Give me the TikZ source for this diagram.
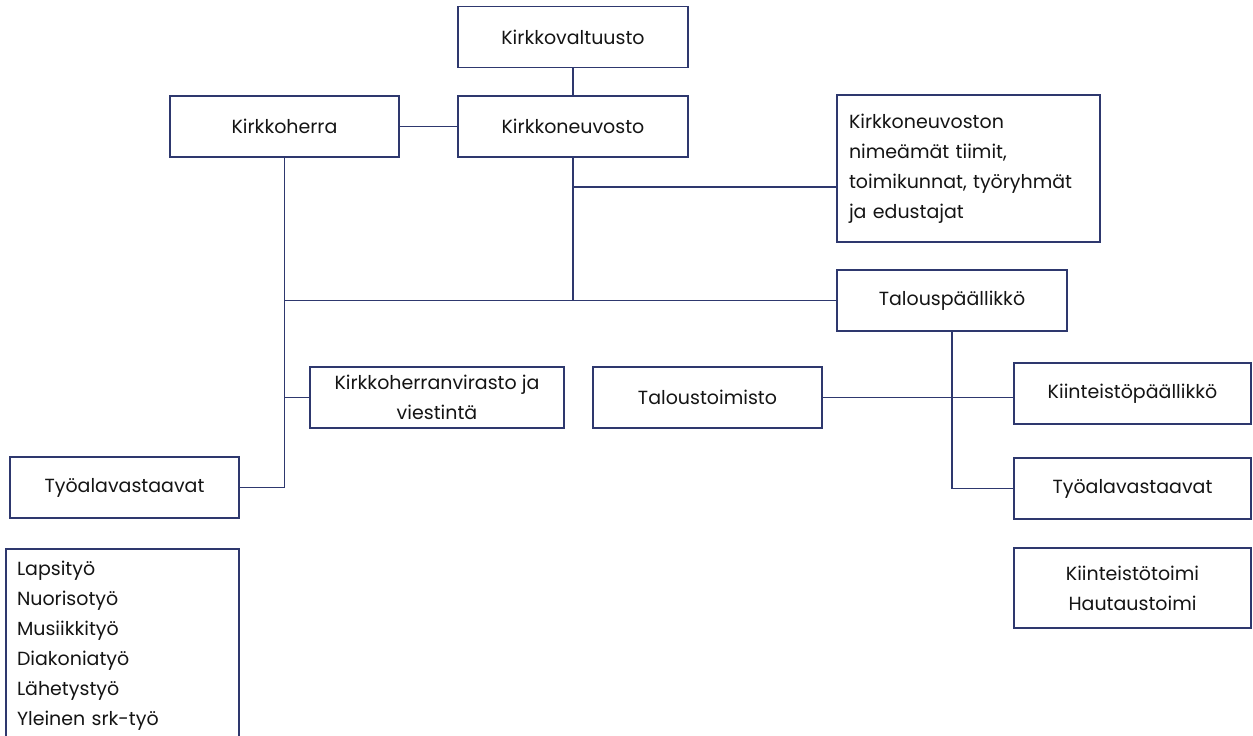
\documentclass[tikz,border=0pt]{standalone}
\usepackage{fontspec}
\setmainfont{Poppins}

\definecolor{lineBlue}{RGB}{46,56,110}
\definecolor{textGray}{RGB}{20,20,20}

\begin{document}
\begin{tikzpicture}
    [x = 1pt, y = -1pt,
     orgBox/.style = {draw = lineBlue, line width = 1.4pt, inner sep = 0pt,
                      text = textGray, minimum height = 61pt, align = center,
                      font = \fontsize{19}{30}\selectfont},
     leftBox/.style = {orgBox, align = left},
     link/.style = {draw = lineBlue, line width = 1.4pt}]

    \useasboundingbox (0,0) rectangle (1253,736);

    \node at (573,37)      [orgBox, minimum width = 230pt] (valtuusto) {Kirkkovaltuusto};
    \node at (573,126.5)   [orgBox, minimum width = 230pt] (neuvosto)  {Kirkkoneuvosto};
    \node at (284.5,126.5) [orgBox, minimum width = 229pt] (herra)     {Kirkkoherra};
    \node at (968.5,168.5) [leftBox, minimum width = 263pt, minimum height = 147pt,
                            text width = 239pt] (tiimit)
      {Kirkkoneuvoston\\ nimeämät tiimit,\\ toimikunnat, työryhmät\\ ja edustajat};
    \node at (952,300.5)   [orgBox, minimum width = 230pt] (talous)    {Talouspäällikkö};

    \node at (437,397.5)    [orgBox, minimum width = 254pt] (virasto)        {Kirkkoherranvirasto ja\\ viestintä};
    \node at (707.5,397.5)  [orgBox, minimum width = 229pt] (taloustoimisto) {Taloustoimisto};
    \node at (1132.5,393.5) [orgBox, minimum width = 237pt] (kiinteisto)     {Kiinteistöpäällikkö};

    \node at (124.5,487.5)  [orgBox, minimum width = 229pt] (tyoVasen) {Työalavastaavat};
    \node at (1132.5,488.5) [orgBox, minimum width = 237pt] (tyoOikea) {Työalavastaavat};

    \node at (1132.5,588) [orgBox, minimum width = 237pt, minimum height = 80pt] (toimet)
      {Kiinteistötoimi\\ Hautaustoimi};
    \node at (122.5,646) [leftBox, minimum width = 233pt, minimum height = 194pt,
                          text width = 211pt] (tyoalat)
      {Lapsityö\\ Nuorisotyö\\ Musiikkityö\\ Diakoniatyö\\ Lähetystyö\\ Yleinen srk-työ};

    \coordinate (tiimitLiitos) at (573,187);

    \path
      (valtuusto) edge [link] (neuvosto)
      (herra) edge [link] (neuvosto);

    \draw [link] (neuvosto.south) -- (neuvosto.south |- talous.west);
    \draw [link] (tiimitLiitos) -- (tiimitLiitos -| tiimit.west);
    \draw [link] (herra.south |- talous.west) -- (talous.west);
    \draw [link] (herra.south) |- (tyoVasen.east);
    \draw [link] (virasto.west -| herra.south) -- (virasto.west);
    \draw [link] (talous.south) |- (tyoOikea.west);
    \draw [link] (taloustoimisto.east) -- (taloustoimisto.east -| kiinteisto.west);
  \end{tikzpicture}
\end{document}
